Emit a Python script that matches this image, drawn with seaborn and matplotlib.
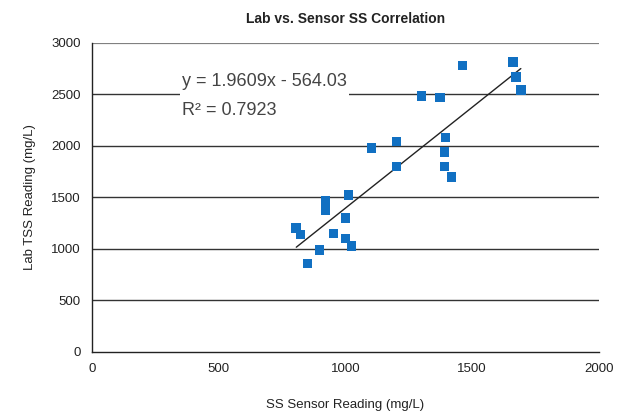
import numpy as np
import pandas as pd
import matplotlib
matplotlib.use("Agg")
import matplotlib.pyplot as plt
import seaborn as sns

sensor_ss = [806, 822, 850, 897, 921, 921, 953, 1000, 1000, 1012, 1024,
             1103, 1202, 1202, 1300, 1372, 1395, 1391, 1391, 1419,
             1462, 1660, 1672, 1692]
lab_tss = [1200, 1140, 860, 990, 1470, 1380, 1150, 1300, 1100, 1520, 1030,
           1980, 2040, 1800, 2480, 2470, 2080, 1940, 1800, 1700,
           2780, 2810, 2670, 2540]
x_ticks = [0, 500, 1000, 1500, 2000]
y_ticks = [0, 500, 1000, 1500, 2000, 2500, 3000]
title = "Lab vs. Sensor SS Correlation"
x_label = "SS Sensor Reading (mg/L)"
y_label = "Lab TSS Reading (mg/L)"
eq_text = "y = 1.9609x - 564.03"
r2_text = "R² = 0.7923"

sns.set_theme(style="white")
plt.rcParams['font.family'] = ['Liberation Sans', 'DejaVu Sans']

df = pd.DataFrame({"x": sensor_ss, "y": lab_tss})

fig = plt.figure(figsize=(6.32, 4.13), dpi=100)
ax = fig.add_axes([0.1456, 0.1477, 0.802, 0.749])

# gridlines
for v in y_ticks[1:]:
    ax.axhline(v, color="#333333" if v != 3000 else "#808080",
               lw=1.0 if v != 3000 else 1.6, zorder=1)

sns.scatterplot(data=df, x="x", y="y", ax=ax, marker="s", s=48,
                color="#1170c2", edgecolor="none", zorder=3, legend=False)

# trend line
slope, intercept = np.polyfit(df["x"], df["y"], 1)
xs = np.array([df["x"].min(), df["x"].max()])
ax.plot(xs, slope * xs + intercept, color="#222222", lw=1.0, zorder=2)

ax.set_xlim(0, 2000)
ax.set_ylim(0, 3000)
ax.set_xticks(x_ticks)
ax.set_yticks(y_ticks)
ax.set_xticklabels([str(t) for t in x_ticks])
ax.set_yticklabels([str(t) for t in y_ticks])

for s in ["top", "right"]:
    ax.spines[s].set_visible(False)
ax.spines["left"].set_color("#222222")
ax.spines["bottom"].set_color("#222222")
ax.spines["left"].set_linewidth(1.0)
ax.spines["bottom"].set_linewidth(1.0)

ax.tick_params(axis="x", direction="in", length=5, width=1, color="#222222",
               labelsize=9.5, labelcolor="#222222", pad=8)
ax.tick_params(axis="y", length=0, labelsize=9.5, labelcolor="#222222", pad=8)

ax.set_xlabel(x_label, fontsize=9.5, color="#222222", labelpad=17)
ax.set_ylabel(y_label, fontsize=9.5, color="#222222", labelpad=11)
ax.set_title(title, fontsize=10, color="#222222", fontweight="bold", pad=14)

txt_family = ['Liberation Sans Narrow', 'Liberation Sans', 'DejaVu Sans']
ax.text(355, 2480, eq_text + "\n" + r2_text, fontsize=13, color="#444444",
        family=txt_family, va="center", ha="left", zorder=4,
        linespacing=1.95,
        bbox=dict(facecolor="white", edgecolor="none", pad=1.5))

fig.savefig("out.png", dpi=100)
